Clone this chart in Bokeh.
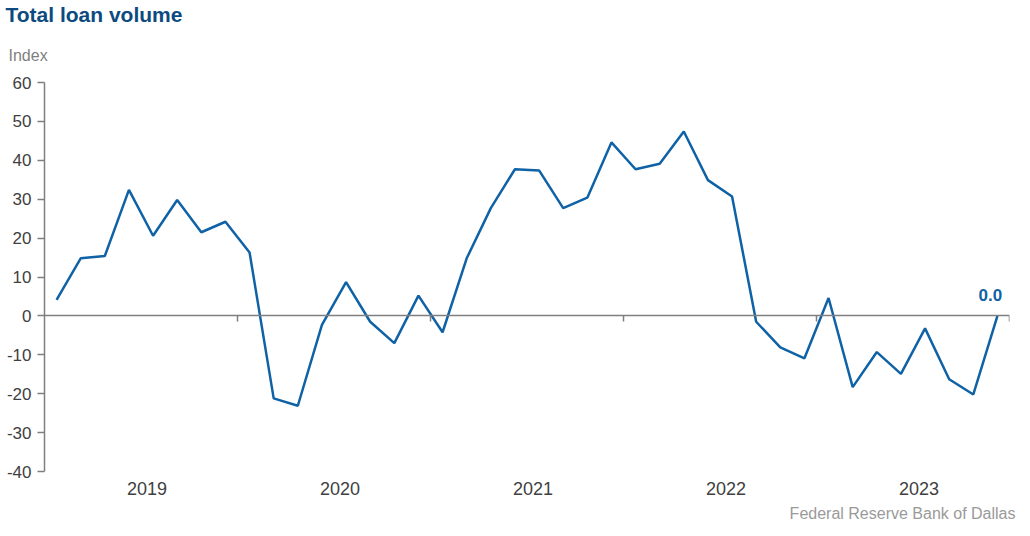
from bokeh.plotting import figure
from bokeh.models import LinearAxis, FixedTicker, Label, Range1d, Title
from bokeh.embed import file_html
from bokeh.resources import INLINE

# ---- data (Banking Conditions Survey, every six weeks) ----
years = ["2019", "2020", "2021", "2022", "2023"]
points_per_year = 8
loan_volume = [4.1, 14.8, 15.4, 32.4, 20.6, 29.8, 21.5, 24.2,
               16.3, -21.2, -23.1, -2.3, 8.7, -1.5, -7.0, 5.2,
               -4.2, 14.8, 27.7, 37.7, 37.4, 27.7, 30.4, 44.6,
               37.7, 39.1, 47.4, 34.9, 30.7, -1.5, -8.1, -10.9,
               4.6, -18.3, -9.3, -14.9, -3.2, -16.3, -20.2, 0.0]
y_ticks = [-40, -30, -20, -10, 0, 10, 20, 30, 40, 50, 60]

x_idx = list(range(len(loan_volume)))
boundaries = [(k + 1) * points_per_year - 0.5 for k in range(len(years))]
centers = [k * points_per_year + 3.75 for k in range(len(years))]

FONT = "Liberation Sans"
LINE_BLUE = "#0f62a5"
AXIS_GRAY = "#7f7f7f"
TEXT_DARK = "#404040"

p = figure(width=1022, height=528,
           x_range=Range1d(-0.5, len(loan_volume) - 0.5),
           y_range=Range1d(-40, 60),
           x_axis_type=None, y_axis_type=None,
           output_backend="svg", toolbar_location=None,
           min_border_left=44, min_border_right=13,
           min_border_top=82, min_border_bottom=57)
p.outline_line_color = None
p.background_fill_color = "white"
p.border_fill_color = "white"

p.add_layout(Title(text="Index", align="left", offset=-36, standoff=38,
                   text_font=FONT, text_font_style="normal", text_font_size="16px",
                   text_color="#7f7f7f"), "above")
p.add_layout(Title(text="Total loan volume", align="left", offset=-39, standoff=0,
                   text_font=FONT, text_font_style="bold", text_font_size="21px",
                   text_color="#0d4a7f"), "above")

yax = LinearAxis(ticker=FixedTicker(ticks=y_ticks),
                 major_label_overrides={t: str(t) for t in y_ticks},
                 axis_line_color=AXIS_GRAY, axis_line_width=1.5,
                 major_tick_line_color=AXIS_GRAY, major_tick_line_width=1.5,
                 major_tick_out=7, major_tick_in=0,
                 minor_tick_line_color=None,
                 major_label_text_font=FONT, major_label_text_font_size="17px",
                 major_label_text_color=TEXT_DARK, major_label_standoff=6)
p.add_layout(yax, "left")

zax = LinearAxis(fixed_location=0, ticker=FixedTicker(ticks=boundaries),
                 axis_line_color=AXIS_GRAY, axis_line_width=1.5,
                 major_tick_line_color=AXIS_GRAY, major_tick_line_width=1.5,
                 major_tick_out=6, major_tick_in=0,
                 minor_tick_line_color=None,
                 major_label_text_alpha=0)
p.add_layout(zax, "below")

yrax = LinearAxis(ticker=FixedTicker(ticks=centers),
                  major_label_overrides={c: y for c, y in zip(centers, years)},
                  axis_line_color=None, major_tick_line_color=None,
                  minor_tick_line_color=None, major_tick_out=0, major_tick_in=0,
                  major_label_standoff=10,
                  major_label_text_font=FONT, major_label_text_font_size="18px",
                  major_label_text_color=TEXT_DARK)
p.add_layout(yrax, "below")

p.add_layout(Title(text="Federal Reserve Bank of Dallas", align="right",
                   offset=-6, standoff=11,
                   text_font=FONT, text_font_style="normal", text_font_size="16px",
                   text_color="#9a9a9a"), "below")

p.line(x_idx, loan_volume, line_color=LINE_BLUE, line_width=2.5)

p.add_layout(Label(x=x_idx[-1], y=loan_volume[-1], text=f"{loan_volume[-1]:.1f}",
                   text_align="center", text_baseline="bottom",
                   x_offset=-7, y_offset=15,
                   text_font=FONT, text_font_style="bold", text_font_size="17px",
                   text_color=LINE_BLUE))

open("out.html", "w").write(file_html(p, INLINE))
